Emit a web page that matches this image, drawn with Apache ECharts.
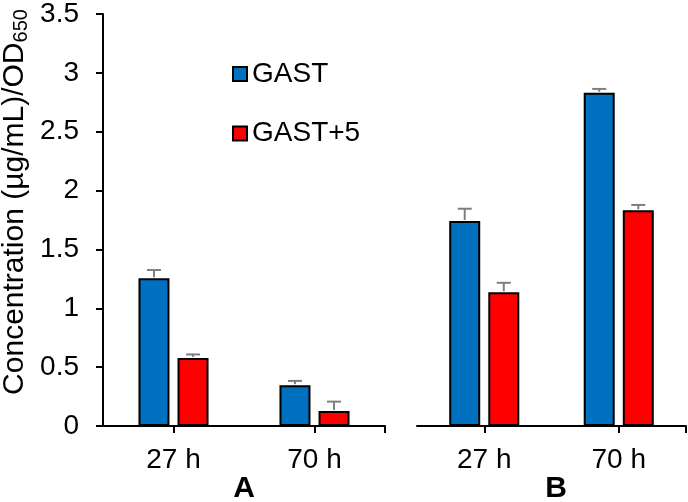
<!DOCTYPE html>
<html>
<head>
<meta charset="utf-8">
<script src="https://cdn.jsdelivr.net/npm/echarts@6/dist/echarts.min.js"></script>
<style>html,body{margin:0;padding:0;background:#fff}#c{width:688px;height:502px}</style>
</head>
<body>
<div id="c"></div>
<script>
// ---- data ----
var categories = ['27 h', '70 h'];
var panelNames = ['A', 'B'];
var seriesNames = ['GAST', 'GAST+5'];
var yTicks = [0, 0.5, 1, 1.5, 2, 2.5, 3, 3.5];
var A_gast = [1.255, 0.347];
var A_gast_err = [0.07, 0.036];
var A_gast5 = [0.578, 0.127];
var A_gast5_err = [0.03, 0.08];
var B_gast = [1.735, 2.821];
var B_gast_err = [0.104, 0.032];
var B_gast5 = [1.132, 1.826];
var B_gast5_err = [0.08, 0.045];

var FONT = '"Liberation Sans", Arial, sans-serif';
var BAR_W = 31, GAP = 0.26;
var COLORS = ['#0070C0', '#FF0000'];
var GRID_TOP = 12.5, GRID_BOTTOM = 76;
var grids = [
  {left: 103, right: 688 - 385, top: GRID_TOP, bottom: GRID_BOTTOM},
  {left: 417, right: 2, top: GRID_TOP, bottom: GRID_BOTTOM}
];

function xAxisOf(i) {
  return {
    type: 'category', gridIndex: i, data: categories,
    axisLine: {show: true, lineStyle: {color: '#000', width: 2}},
    axisTick: {show: true, alignWithLabel: true, length: 7, lineStyle: {color: '#000', width: 2}},
    axisLabel: {fontSize: 28, color: '#000', fontFamily: FONT, margin: 20},
    splitLine: {show: false}
  };
}
function yAxisOf(i) {
  return {
    type: 'value', gridIndex: i, min: yTicks[0], max: yTicks[yTicks.length - 1], interval: 0.5,
    show: i === 0,
    axisLine: {show: true, lineStyle: {color: '#000', width: 2}},
    axisTick: {show: true, length: 7, lineStyle: {color: '#000', width: 2}},
    axisLabel: {fontSize: 28, color: '#000', fontFamily: FONT, margin: 24},
    splitLine: {show: false}
  };
}

function barSeries(name, data, gi, ci) {
  return {
    name: name, type: 'bar', xAxisIndex: gi, yAxisIndex: gi, data: data,
    barWidth: BAR_W, barGap: (GAP * 100) + '%',
    itemStyle: {color: COLORS[ci], borderColor: '#000', borderWidth: 2},
    z: 3
  };
}
function errSeries(vals, errs, gi, ci) {
  var sign = ci === 0 ? -1 : 1;
  return {
    type: 'custom', xAxisIndex: gi, yAxisIndex: gi, z: 4, silent: true,
    data: vals.map(function (v, k) { return [k, v, errs[k]]; }),
    renderItem: function (params, api) {
      var k = api.value(0), v = api.value(1), e = api.value(2);
      var off = sign * (BAR_W + BAR_W * GAP) / 2;
      var p0 = api.coord([k, v]);
      var p1 = api.coord([k, v + e]);
      var x = p0[0] + off;
      var st = {stroke: '#7F7F7F', lineWidth: 2};
      return {type: 'group', children: [
        {type: 'line', shape: {x1: x, y1: p0[1] - 1, x2: x, y2: p1[1]}, style: st},
        {type: 'line', shape: {x1: x - 7, y1: p1[1], x2: x + 7, y2: p1[1]}, style: st}
      ]};
    }
  };
}

var chart = echarts.init(document.getElementById('c'), null, {renderer: 'canvas'});
var axisBottomY = 502 - GRID_BOTTOM;
chart.setOption({
  animation: false,
  backgroundColor: '#fff',
  textStyle: {fontFamily: FONT},
  grid: grids,
  xAxis: [xAxisOf(0), xAxisOf(1)],
  yAxis: [yAxisOf(0), yAxisOf(1)],
  legend: [
    {data: [seriesNames[0]], left: 232, top: 60, padding: 0, itemWidth: 14, itemHeight: 14, icon: 'rect',
     textStyle: {fontSize: 28, color: '#000', fontFamily: FONT}},
    {data: [seriesNames[1]], left: 232, top: 119.5, padding: 0, itemWidth: 14, itemHeight: 14, icon: 'rect',
     textStyle: {fontSize: 28, color: '#000', fontFamily: FONT}}
  ],
  series: [
    barSeries(seriesNames[0], A_gast, 0, 0),
    barSeries(seriesNames[1], A_gast5, 0, 1),
    barSeries(seriesNames[0], B_gast, 1, 0),
    barSeries(seriesNames[1], B_gast5, 1, 1),
    errSeries(A_gast, A_gast_err, 0, 0),
    errSeries(A_gast5, A_gast5_err, 0, 1),
    errSeries(B_gast, B_gast_err, 1, 0),
    errSeries(B_gast5, B_gast5_err, 1, 1)
  ],
  graphic: [
    {type: 'line', shape: {x1: 385, y1: axisBottomY, x2: 385, y2: axisBottomY + 7}, style: {stroke: '#000', lineWidth: 2}},
    {type: 'line', shape: {x1: 686, y1: axisBottomY, x2: 686, y2: axisBottomY + 7}, style: {stroke: '#000', lineWidth: 2}},
    {type: 'text', x: 244, y: 489, style: {text: panelNames[0], font: 'bold 30px ' + FONT, fill: '#000', textAlign: 'center', textVerticalAlign: 'middle'}},
    {type: 'text', x: 556, y: 489, style: {text: panelNames[1], font: 'bold 30px ' + FONT, fill: '#000', textAlign: 'center', textVerticalAlign: 'middle'}},
    {type: 'text', x: 15, y: 202, rotation: Math.PI / 2,
     style: {text: 'Concentration (µg/mL)/OD{sub|650}', fontSize: 30, fontFamily: FONT, fill: '#000',
       textAlign: 'center', textVerticalAlign: 'middle',
       rich: {sub: {fontSize: 20, fontFamily: FONT, fill: '#000', verticalAlign: 'bottom', padding: [12, 0, 0, 0]}}}}
  ]
});
</script>
</body>
</html>
